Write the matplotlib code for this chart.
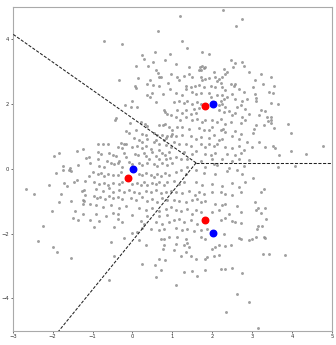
import numpy as np
import matplotlib
matplotlib.use("Agg")
import matplotlib.pyplot as plt

# estimated centroids (red) and true centres (blue)
est_x = [1.82, -0.11, 1.82]
est_y = [1.94, -0.29, -1.57]
true_x = [2.02, 0.02, 2.02]
true_y = [1.99, -0.01, -1.99]

# sample points
points = [
    (-1.96, 0.39), (-1.83, 0.49), (-1.73, 0.08), (-1.57, 0.04), (-1.38, 0.55), (-1.36, 0.11),
    (-1.25, 0.62), (-1.17, 0.34), (-1.10, 0.36), (-1.07, 0.19),
    # top middle-left
    (0.65, 4.25), (-0.72, 3.96), (-0.25, 3.86), (0.57, 3.6), (0.23, 3.52), (0.29, 3.39),
    (0.93, 3.55), (0.52, 3.29), (0.82, 3.35), (0.1, 3.19), (0.38, 3.19), (0.58, 3.04),
    (0.65, 2.95), (0.71, 2.85), (0.67, 2.83), (0.96, 2.93), (0.15, 2.8), (-0.35, 2.73),
    (0.44, 2.73), (0.375, 2.63), (0.525, 2.6), (0.07, 2.55), (0.08, 2.49), (0.67, 2.57),
    (0.9, 2.65), (0.93, 2.47), (0.48, 2.34), (0.36, 2.27), (0.43, 2.22), (0.77, 2.3),
    (0.0, 2.09), (-0.18, 1.98), (-0.025, 1.91), (0.125, 1.91), (0.6, 2.06), (0.79, 1.83),
    (0.82, 1.75), (0.875, 1.70), (0.96, 1.65), (-0.42, 1.58), (-0.43, 1.5), (-0.07, 1.42),
    (0.21, 1.45), (0.32, 1.38), (0.375, 1.32), (0.67, 1.34), (0.77, 1.34), (0.82, 1.37),
    (0.92, 1.29), (0.98, 1.19), (-0.17, 1.16), (-0.08, 1.11), (0.08, 1.21), (0.23, 1.09),
    (0.33, 1.04), (0.54, 1.11), (0.625, 1.04), (0.75, 1.04), (0.83, 0.96), (0.875, 1.03),
    (0.96, 1.03), (0.04, 0.95), (0.17, 0.9), (0.25, 0.83), (0.375, 0.93), (0.54, 0.83),
    (0.58, 0.9), (0.67, 0.78), (0.79, 0.88), (0.85, 0.73), (-0.875, 0.78), (-0.75, 0.78),
    (-0.625, 0.78), (-0.29, 0.8), (-0.21, 0.76), (-0.17, 0.78), (-0.375, 0.68), (-0.25, 0.63),
    (0.0, 0.68), (0.125, 0.7), (0.25, 0.63), (0.33, 0.7), (0.46, 0.6), (0.5, 0.52),
    (0.67, 0.57), (0.73, 0.49), (0.82, 0.42), (0.96, 0.68), (0.92, 0.52), (-0.875, 0.52),
    (-0.79, 0.47), (-0.6, 0.49), (-0.5, 0.42), (-0.42, 0.39), (-0.21, 0.49), (-0.17, 0.37),
    (0.07, 0.47), (0.15, 0.42), (0.29, 0.49), (0.33, 0.39), (0.42, 0.32), (0.58, 0.39),
    (0.67, 0.32), (0.83, 0.29), (0.93, 0.35), (-0.875, 0.29), (-0.65, 0.25), (-0.54, 0.19),
    (-0.46, 0.15), (-0.375, 0.17), (-0.33, 0.25), (-0.08, 0.22), (0.0, 0.15), (0.17, 0.19),
    (0.25, 0.11), (0.375, 0.17), (0.54, 0.15), (0.625, 0.08), (0.75, 0.17), (0.875, 0.11),
    (0.98, 0.19), (-0.83, 0.08), (-0.71, 0.06), (-0.25, 0.06),
    # top middle-right
    (1.19, 4.72), (2.27, 4.9), (2.75, 4.63), (2.6, 4.42), (1.25, 3.96), (1.375, 3.72),
    (1.75, 3.62), (1.93, 3.55), (1.08, 3.24), (2.46, 3.36), (2.57, 3.26), (2.52, 3.16),
    (2.75, 3.29), (2.79, 3.19), (1.42, 3.14), (1.68, 3.14), (1.75, 3.19), (1.79, 3.12),
    (1.83, 3.16), (1.67, 3.04), (1.73, 3.06), (2.29, 3.09), (2.375, 3.0), (2.04, 2.985),
    (1.42, 2.93), (1.5, 2.85), (1.29, 2.88), (2.08, 2.83), (2.17, 2.78), (2.25, 2.83),
    (2.33, 2.93), (2.92, 2.98), (1.125, 2.83), (1.17, 2.73), (1.71, 2.83), (1.75, 2.75),
    (1.83, 2.78), (1.92, 2.81), (2.125, 2.71), (2.21, 2.65), (2.46, 2.63), (2.54, 2.55),
    (2.58, 2.63), (1.33, 2.57), (1.35, 2.47), (1.46, 2.52), (1.57, 2.57), (1.67, 2.6),
    (1.79, 2.52), (1.96, 2.57), (2.08, 2.52), (2.25, 2.52), (2.33, 2.44), (2.67, 2.47),
    (2.79, 2.37), (1.08, 2.34), (1.23, 2.27), (1.5, 2.37), (1.58, 2.3), (1.71, 2.34),
    (1.92, 2.34), (1.98, 2.22), (2.125, 2.27), (2.25, 2.27), (2.29, 2.16), (2.375, 2.22),
    (2.23, 2.11), (2.5, 2.3), (2.58, 2.16), (2.75, 2.11), (2.875, 2.16), (1.04, 2.06),
    (1.17, 2.11), (1.29, 2.03), (1.375, 2.09), (1.5, 2.01), (1.625, 2.06), (1.73, 2.01),
    (2.08, 2.06), (2.17, 1.96), (2.25, 2.01), (2.33, 1.91), (2.625, 1.91), (2.71, 1.96),
    (2.83, 1.86), (1.125, 1.81), (1.23, 1.72), (1.33, 1.81), (1.46, 1.68), (1.54, 1.86),
    (1.6, 1.72), (1.67, 1.89), (2.17, 1.81), (2.29, 1.75), (2.42, 1.78), (2.5, 1.65),
    (2.58, 1.72), (2.75, 1.6), (2.92, 1.7), (1.08, 1.6), (1.18, 1.52), (1.33, 1.6),
    (1.5, 1.5), (1.625, 1.55), (1.75, 1.45), (1.83, 1.5), (2.0, 1.5), (2.125, 1.45),
    (2.21, 1.55), (2.33, 1.4), (2.46, 1.45), (2.71, 1.42), (2.83, 1.5), (1.125, 1.3),
    (1.25, 1.29), (1.42, 1.24), (1.67, 1.27), (1.79, 1.21), (1.92, 1.19), (2.0, 1.29),
    (2.21, 1.19), (2.27, 1.24), (2.33, 1.14), (2.58, 1.17), (2.71, 1.09), (1.0, 1.09),
    (1.08, 1.01), (1.25, 1.04), (1.46, 1.01), (1.58, 0.93), (1.71, 0.985), (1.92, 0.96),
    (2.04, 1.04), (2.17, 0.9), (2.25, 0.93), (2.5, 1.01), (2.67, 0.93), (2.875, 0.83),
    (1.04, 0.83), (1.17, 0.76), (1.33, 0.78), (1.46, 0.7), (1.71, 0.76), (1.83, 0.68),
    (1.92, 0.78), (2.04, 0.7), (2.125, 0.76), (2.33, 0.68), (2.5, 0.63), (2.67, 0.7),
    (2.79, 0.57), (1.29, 0.52), (1.5, 0.47), (1.58, 0.55), (1.83, 0.47), (1.96, 0.42),
    (2.08, 0.49), (2.375, 0.47), (2.58, 0.42), (2.71, 0.49), (1.08, 0.37), (1.21, 0.32),
    (1.375, 0.29), (1.71, 0.25), (2.0, 0.29), (2.04, 0.16), (2.25, 0.29), (2.5, 0.25),
    (2.67, 0.32), (2.92, 0.27), (1.375, 0.06), (1.83, 0.06), (2.125, 0.11), (2.42, 0.04),
    (2.79, 0.08),
    # top right
    (3.23, 2.93), (3.07, 2.75), (3.46, 2.85), (3.02, 2.54), (3.27, 2.63), (3.54, 2.57),
    (3.08, 2.3), (3.1, 2.2), (3.1, 2.09), (3.42, 2.37), (3.52, 2.34), (3.475, 2.03),
    (3.65, 1.99), (3.21, 1.83), (3.33, 1.78), (3.18, 1.65), (3.375, 1.6), (3.46, 1.6),
    (3.46, 1.52), (3.39, 1.48), (3.29, 1.34), (3.1, 1.34), (3.48, 1.42), (3.54, 1.27),
    (3.9, 1.38), (3.04, 1.24), (3.02, 1.11), (3.98, 1.11), (3.18, 0.83), (3.0, 0.68),
    (3.52, 0.7), (3.58, 0.63), (3.32, 0.68), (3.68, 0.42), (3.98, 0.55), (4.36, 0.45),
    (4.775, 0.7), (3.65, 0.06), (4.07, 0.1),
    # bottom left
    (-1.92, -0.12), (-1.73, -0.05), (-1.6, -0.02), (-1.53, -0.08), (-2.68, -0.62),
    (-2.46, -0.77), (-2.1, -0.51), (-1.71, -0.43), (-1.65, -0.53), (-1.475, -0.39),
    (-1.4, -0.33), (-1.18, -0.36), (-1.1, -0.23), (-1.79, -0.77), (-1.27, -0.67),
    (-1.21, -0.64), (-1.18, -0.8), (-1.83, -1.03), (-1.53, -1.0), (-1.25, -0.97),
    (-1.21, -1.0), (-1.25, -1.08), (-1.07, -1.08), (-2.02, -1.31), (-1.43, -1.31),
    (-1.23, -1.38), (-1.5, -1.52), (-1.36, -1.59), (-1.07, -1.59), (-2.25, -1.76),
    (-2.375, -2.24), (-2.0, -2.41), (-1.89, -2.56), (-1.53, -2.75),
    # bottom middle-left
    (-1.0, -0.1), (-0.875, -0.15), (-0.79, -0.12), (-0.71, -0.23), (-0.625, -0.15),
    (-0.5, -0.2), (-0.375, -0.18), (-0.29, -0.1), (0.17, -0.15), (0.25, -0.2), (0.33, -0.12),
    (0.46, -0.18), (0.54, -0.26), (0.625, -0.15), (0.71, -0.23), (0.82, -0.12), (0.92, -0.2),
    (-0.96, -0.41), (-0.83, -0.46), (-0.71, -0.43), (-0.625, -0.49), (-0.5, -0.43),
    (-0.35, -0.46), (-0.25, -0.41), (0.0, -0.46), (0.125, -0.43), (0.21, -0.51),
    (0.29, -0.41), (0.375, -0.49), (0.48, -0.43), (0.58, -0.46), (0.67, -0.41),
    (0.79, -0.51), (0.875, -0.41), (-0.92, -0.62), (-0.75, -0.67), (-0.58, -0.59),
    (-0.48, -0.72), (-0.33, -0.64), (-0.21, -0.7), (-0.08, -0.64), (0.04, -0.7),
    (0.17, -0.74), (0.33, -0.67), (0.46, -0.72), (0.58, -0.64), (0.71, -0.74), (0.83, -0.7),
    (0.96, -0.67), (-0.96, -0.84), (-0.9, -0.9), (-0.82, -0.87), (-0.68, -0.92),
    (-0.58, -0.84), (-0.5, -0.9), (-0.375, -0.87), (-0.25, -0.94), (-0.04, -0.9),
    (0.08, -0.97), (0.25, -0.87), (0.375, -1.0), (0.5, -0.94), (0.625, -1.03), (0.75, -0.9),
    (0.875, -0.97), (-0.92, -1.13), (-0.75, -1.18), (-0.54, -1.13), (-0.33, -1.21),
    (-0.17, -1.15), (0.17, -1.21), (0.33, -1.28), (0.5, -1.21), (0.67, -1.31), (0.83, -1.23),
    (0.96, -1.18), (-0.92, -1.38), (-0.67, -1.44), (-0.5, -1.35), (-0.375, -1.38),
    (0.0, -1.42), (0.375, -1.44), (0.67, -1.46), (0.875, -1.42), (-0.83, -1.62),
    (-0.375, -1.56), (-0.25, -1.64), (0.21, -1.62), (0.29, -1.69), (0.58, -1.64),
    (0.75, -1.69), (0.92, -1.64), (-0.96, -1.79), (-0.46, -1.79), (0.25, -1.83),
    (0.46, -1.85), (0.67, -1.9), (0.79, -1.85), (0.0, -1.97), (0.125, -1.95), (-0.21, -2.13),
    (0.71, -2.15), (0.79, -2.17), (0.92, -2.1), (-0.54, -2.26), (0.17, -2.2), (0.33, -2.34),
    (0.79, -2.36), (0.77, -2.48), (-0.46, -2.69), (0.67, -2.77), (0.82, -2.82), (0.23, -2.95),
    (0.57, -2.97), (0.71, -3.13), (0.6, -3.33), (-0.6, -3.44),
    # bottom middle-right
    (1.08, -0.1), (1.21, -0.05), (1.33, -0.15), (1.58, -0.05), (1.79, -0.12), (2.08, -0.15),
    (2.375, -0.08), (2.625, -0.05), (2.75, -0.15), (2.83, -0.41), (1.04, -0.36),
    (1.17, -0.46), (1.29, -0.39), (1.58, -0.41), (1.75, -0.49), (2.0, -0.46), (2.25, -0.53),
    (2.5, -0.43), (2.67, -0.56), (1.08, -0.7), (1.25, -0.74), (1.42, -0.67), (1.57, -0.8),
    (1.67, -0.72), (1.79, -0.77), (2.0, -0.72), (2.21, -0.7), (2.33, -0.77), (2.5, -0.82),
    (2.71, -0.72), (1.04, -0.97), (1.17, -1.0), (1.33, -1.03), (1.5, -0.97), (1.625, -0.94),
    (1.71, -1.03), (1.83, -1.0), (2.08, -1.08), (2.25, -1.11), (2.33, -1.08), (2.625, -1.15),
    (1.08, -1.28), (1.21, -1.31), (1.375, -1.23), (1.5, -1.38), (1.58, -1.28), (1.71, -1.33),
    (2.0, -1.33), (2.17, -1.28), (2.42, -1.38), (2.71, -1.33), (1.04, -1.59), (1.17, -1.54),
    (1.29, -1.64), (1.46, -1.59), (1.625, -1.69), (2.21, -1.59), (2.33, -1.52), (2.5, -1.62),
    (2.58, -1.64), (2.71, -1.66), (1.08, -1.83), (1.25, -1.9), (1.375, -1.85), (1.54, -1.93),
    (1.71, -1.9), (1.875, -1.87), (2.29, -2.0), (2.67, -2.13), (2.71, -2.17), (2.92, -2.2),
    (1.125, -2.1), (1.33, -2.15), (1.71, -2.1), (1.83, -2.15), (1.08, -2.31), (1.29, -2.34),
    (1.375, -2.28), (1.42, -2.41), (2.0, -2.46), (2.08, -2.41), (2.17, -2.34), (2.33, -2.38),
    (2.46, -2.34), (1.04, -2.51), (1.21, -2.69), (1.33, -2.56), (1.46, -2.69), (1.83, -2.77),
    (1.875, -2.72), (2.04, -2.69), (2.17, -2.65), (1.58, -2.77), (1.29, -3.18), (1.48, -3.16),
    (1.625, -3.3), (1.83, -3.13), (2.23, -3.1), (2.33, -3.08), (2.5, -3.06), (2.75, -3.2),
    (1.08, -3.59), (2.625, -3.85), (2.92, -4.1), (2.35, -4.43),
    # bottom right
    (3.02, -0.29), (3.29, -0.62), (3.23, -0.72), (3.08, -1.03), (3.15, -1.21), (3.33, -1.21),
    (3.1, -1.28), (3.23, -1.35), (3.35, -1.56), (3.15, -1.76), (3.25, -1.76), (3.125, -1.87),
    (3.0, -2.15), (3.1, -2.1), (3.29, -2.1), (3.32, -2.13), (3.27, -2.62), (3.43, -2.63),
    (3.83, -2.67), (3.15, -4.92),
]

xlim = (-3, 5)
ylim = (-5, 5)

pts = np.array(points)
cen = np.column_stack([est_x, est_y])

fig = plt.figure(figsize=(3.36, 3.45), dpi=100)
ax = fig.add_axes([0.038, 0.041, 0.950, 0.939])

ax.scatter(pts[:, 0], pts[:, 1], s=2.5, c="#a0a0a0", edgecolors="#7a7a7a", linewidths=0.3, zorder=2)

# Voronoi boundaries between the estimated centroids
a, b, c = cen
d = 2 * (a[0] * (b[1] - c[1]) + b[0] * (c[1] - a[1]) + c[0] * (a[1] - b[1]))
ux = ((a @ a) * (b[1] - c[1]) + (b @ b) * (c[1] - a[1]) + (c @ c) * (a[1] - b[1])) / d
uy = ((a @ a) * (c[0] - b[0]) + (b @ b) * (a[0] - c[0]) + (c @ c) * (b[0] - a[0])) / d
vertex = np.array([ux, uy])
for i, j, k in [(0, 1, 2), (1, 2, 0), (0, 2, 1)]:
    diff = cen[j] - cen[i]
    direc = np.array([-diff[1], diff[0]])
    mid = (cen[i] + cen[j]) / 2
    if np.dot(direc, cen[k] - mid) > 0:
        direc = -direc
    end = vertex + direc / np.linalg.norm(direc) * 20
    ax.plot([vertex[0], end[0]], [vertex[1], end[1]], color="#222222", ls=(0, (3, 1.5)), lw=0.75, zorder=3)

ax.scatter(est_x, est_y, s=22, c="red", zorder=4)
ax.scatter(true_x, true_y, s=22, c="blue", zorder=4)

ax.set_xlim(*xlim)
ax.set_ylim(*ylim)
ax.set_xticks(range(-3, 6))
ax.set_yticks([-4, -2, 0, 2, 4])
ax.tick_params(labelsize=3.8, length=1.5, width=0.5, pad=1, colors="#333333")
for sp in ax.spines.values():
    sp.set_color("#aaaaaa")
    sp.set_linewidth(0.8)

fig.savefig("out.png", dpi=100)
